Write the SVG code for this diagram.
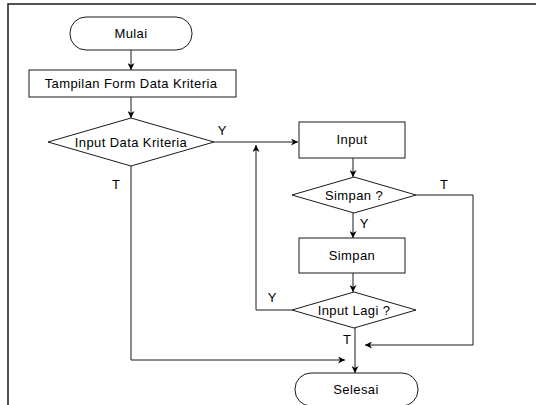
<svg xmlns="http://www.w3.org/2000/svg" width="536" height="405" viewBox="0 0 536 405">
  <style>
    .shape { fill: #ffffff; stroke: #1a1a1a; stroke-width: 1; }
    .frame { fill: none; stroke: #1a1a1a; stroke-width: 1.5; }
    .link { fill: none; stroke: #1a1a1a; stroke-width: 1; }
    .txt { font-family: "Liberation Sans", Arial, sans-serif; font-size: 13px; letter-spacing: 0.4px; fill: #000000; text-anchor: middle; }
    .lbl { font-family: "Liberation Sans", Arial, sans-serif; font-size: 13px; fill: #000000; text-anchor: middle; }
  </style>
  <defs>
    <marker id="arrow" viewBox="0 0 10 10" refX="10" refY="5" markerWidth="7" markerHeight="7" markerUnits="userSpaceOnUse" orient="auto">
      <path d="M0,0 L10,5 L0,10 L3,5 Z" fill="#000000"/>
    </marker>
  </defs>

  <rect width="536" height="405" fill="#ffffff"/>

  <!-- page frame (top and left edges) -->
  <path class="frame" d="M8,405 L8,4 L536,4"/>

  <!-- connectors -->
  <g id="connectors">
    <path class="link" d="M131,50 L131,70" marker-end="url(#arrow)"/>
    <path class="link" d="M131,97 L131,118" marker-end="url(#arrow)"/>
    <path class="link" d="M214,142 L298,142" marker-end="url(#arrow)"/>
    <path class="link" d="M353,158 L353,177" marker-end="url(#arrow)"/>
    <path class="link" d="M353,213 L353,238" marker-end="url(#arrow)"/>
    <path class="link" d="M353,273 L353,292" marker-end="url(#arrow)"/>
    <path class="link" d="M416,195 L473,195 L473,345 L365,345" marker-end="url(#arrow)"/>
    <path class="link" d="M292,310 L256,310 L256,145" marker-end="url(#arrow)"/>
    <path class="link" d="M355,328 L355,373" marker-end="url(#arrow)"/>
    <path class="link" d="M131,166 L131,360 L345,360" marker-end="url(#arrow)"/>

    <text class="lbl" x="222" y="135">Y</text>
    <text class="lbl" x="116" y="189">T</text>
    <text class="lbl" x="444" y="189">T</text>
    <text class="lbl" x="364" y="228">Y</text>
    <text class="lbl" x="272" y="302">Y</text>
    <text class="lbl" x="347" y="344">T</text>
  </g>

  <g id="mulai">
    <rect class="shape" x="70" y="17" width="122" height="33" rx="16" ry="16"/>
    <text class="txt" x="131" y="38">Mulai</text>
  </g>

  <g id="tampilan-form">
    <rect class="shape" x="29" y="70" width="207" height="27"/>
    <text class="txt" x="131" y="88">Tampilan Form Data Kriteria</text>
  </g>

  <g id="input-data-kriteria">
    <polygon class="shape" points="131,118 214,142 131,166 48,142"/>
    <text class="txt" x="131" y="147">Input Data Kriteria</text>
  </g>

  <g id="input">
    <rect class="shape" x="299" y="122" width="106" height="36"/>
    <text class="txt" x="352" y="144">Input</text>
  </g>

  <g id="simpan-tanya">
    <polygon class="shape" points="354,177 416,195 354,213 292,195"/>
    <text class="txt" x="354" y="200">Simpan ?</text>
  </g>

  <g id="simpan">
    <rect class="shape" x="299" y="238" width="106" height="35"/>
    <text class="txt" x="352" y="260">Simpan</text>
  </g>

  <g id="input-lagi">
    <polygon class="shape" points="354,292 416,310 354,328 292,310"/>
    <text class="txt" x="354" y="315">Input Lagi ?</text>
  </g>

  <g id="selesai">
    <rect class="shape" x="295" y="373" width="123" height="33" rx="16" ry="16"/>
    <text class="txt" x="356" y="394">Selesai</text>
  </g>
</svg>
